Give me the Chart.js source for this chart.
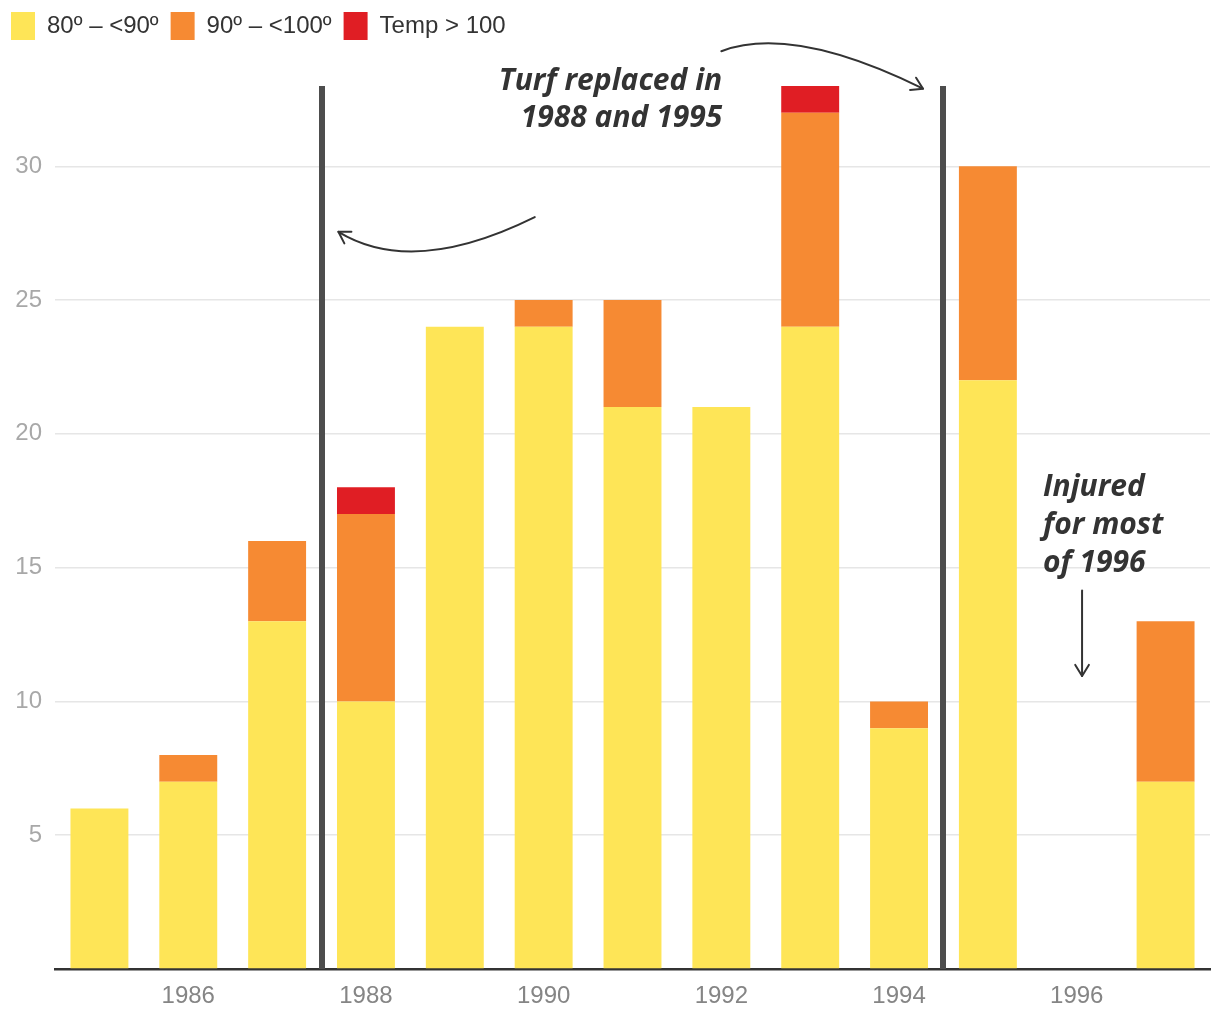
<!DOCTYPE html>
<html>
<head>
<meta charset="utf-8">
<script src="https://cdn.jsdelivr.net/npm/chart.js@4"></script>
<style>
  html, body { margin: 0; padding: 0; background: #fff; }
  canvas { display: block; }
</style>
</head>
<body>
<canvas id="heatChart" width="1220" height="1020"></canvas>
<script>
// Games played in heat, by season
const years = ["1985", "1986", "1987", "1988", "1989", "1990", "1991", "1992", "1993", "1994", "1995", "1996", "1997"];
const temp80to90 = [6, 7, 13, 10, 24, 24, 21, 21, 24, 9, 22, 0, 7];
const temp90to100 = [0, 1, 3, 7, 0, 1, 4, 0, 8, 1, 8, 0, 6];
const tempOver100 = [0, 0, 0, 1, 0, 0, 0, 0, 1, 0, 0, 0, 0];
const yTicks = [5, 10, 15, 20, 25, 30];
const turfYears = ["1988", "1995"];

const annoFont = "italic 700 30px 'Open Sans', Lato, sans-serif";
const ink = "#333333";
const sans = "'Liberation Sans', Arial, sans-serif";

function arrowHead(ctx, x, y, fromX, fromY) {
    const ang = Math.atan2(y - fromY, x - fromX);
    const len = 13;
    ctx.beginPath();
    ctx.moveTo(x - len * Math.cos(ang - 0.55), y - len * Math.sin(ang - 0.55));
    ctx.lineTo(x, y);
    ctx.lineTo(x - len * Math.cos(ang + 0.55), y - len * Math.sin(ang + 0.55));
    ctx.stroke();
}

// vertical turf lines + notes
const notes = {
    id: "notes",
    afterDatasetsDraw(chart) {
        const ctx = chart.ctx;
        const xs = chart.scales.x, ys = chart.scales.y, area = chart.chartArea;
        const at = (i, v) => [xs.getPixelForValue(i), ys.getPixelForValue(v)];

        ctx.save();
        // turf replaced lines, between seasons
        ctx.strokeStyle = "#4d4d4d";
        ctx.lineWidth = 6;
        turfYears.forEach(y => {
            const i = years.indexOf(y) - 0.5;
            const px = Math.round(xs.getPixelForValue(i));
            ctx.beginPath();
            ctx.moveTo(px, area.top);
            ctx.lineTo(px, area.bottom);
            ctx.stroke();
        });

        ctx.fillStyle = ink;
        ctx.font = annoFont;
        ctx.textAlign = "right";
        ctx.textBaseline = "alphabetic";
        let p = at(7.01, 32.85);
        ctx.fillText("Turf replaced in", p[0], p[1]);
        p = at(7.01, 31.45);
        ctx.fillText("1988 and 1995", p[0], p[1]);

        ctx.textAlign = "left";
        ["Injured", "for most", "of 1996"].forEach((t, k) => {
            const q = at(10.62, 17.68 - k * 1.42);
            ctx.fillText(t, q[0], q[1]);
        });

        ctx.strokeStyle = ink;
        ctx.lineWidth = 2;
        ctx.lineCap = "round";
        ctx.lineJoin = "round";

        // arrow to the right line
        let a = at(7.0, 34.3), c = at(7.8, 35.3), b = at(9.27, 32.9);
        ctx.beginPath();
        ctx.moveTo(a[0], a[1]);
        ctx.quadraticCurveTo(c[0], c[1], b[0], b[1]);
        ctx.stroke();
        arrowHead(ctx, b[0], b[1], c[0], c[1]);

        // arrow to the left line
        a = at(4.9, 28.1); c = at(3.53, 25.85); b = at(2.69, 27.55);
        ctx.beginPath();
        ctx.moveTo(a[0], a[1]);
        ctx.quadraticCurveTo(c[0], c[1], b[0], b[1]);
        ctx.stroke();
        arrowHead(ctx, b[0], b[1], c[0], c[1]);

        // injured arrow
        a = at(11.06, 14.15); b = at(11.06, 10.95);
        ctx.beginPath();
        ctx.moveTo(a[0], a[1]);
        ctx.lineTo(b[0], b[1]);
        ctx.stroke();
        arrowHead(ctx, b[0], b[1], a[0], a[1]);
        ctx.restore();
    }
};

// keep the plot top where the reference has it
const legendSpace = {
    id: "legendSpace",
    beforeInit(chart) {
        const fit = chart.legend.fit;
        chart.legend.fit = function () {
            fit.bind(chart.legend)();
            this.height = 86;
        };
    }
};

const ctx = document.getElementById("heatChart").getContext("2d");
const heatChart = new Chart(ctx, {
    type: "bar",
    data: {
        labels: years,
        datasets: [
            { label: "80º – <90º", data: temp80to90, backgroundColor: "#fee557" },
            { label: "90º – <100º", data: temp90to100, backgroundColor: "#f68a33" },
            { label: "Temp > 100", data: tempOver100, backgroundColor: "#e01e24" }
        ]
    },
    options: {
        responsive: false,
        animation: false,
        devicePixelRatio: 1,
        layout: { padding: { top: 0, right: 10, left: -1, bottom: 0 } },
        datasets: { bar: { categoryPercentage: 1, barPercentage: 0.652, borderWidth: 0 } },
        plugins: {
            tooltip: { enabled: false },
            legend: {
                position: "top",
                align: "start",
                labels: {
                    boxWidth: 24,
                    boxHeight: 28,
                    padding: 12,
                    color: "#333",
                    font: { family: sans, size: 24 }
                }
            }
        },
        scales: {
            x: {
                stacked: true,
                grid: { display: false, drawTicks: false },
                border: { display: true, color: "#333", width: 2.5 },
                ticks: {
                    autoSkip: false,
                    maxRotation: 0,
                    padding: 13,
                    color: "#858585",
                    font: { family: sans, size: 24 },
                    callback: (v, i) => (parseInt(years[i]) % 2 === 0 ? years[i] : "")
                },
                afterFit: s => { s.height = 51; }
            },
            y: {
                stacked: true,
                min: 0,
                max: 33,
                afterBuildTicks: s => { s.ticks = [0].concat(yTicks).map(v => ({ value: v })); },
                grid: { color: "#e6e6e6", lineWidth: 1.5, drawTicks: false },
                border: { display: false },
                ticks: {
                    padding: 13,
                    color: "#a8a8a8",
                    font: { family: sans, size: 24 },
                    callback: v => (v === 0 ? "" : v)
                },
                afterFit: s => { s.width = 56; }
            }
        }
    },
    plugins: [legendSpace, notes]
});
</script>
</body>
</html>
